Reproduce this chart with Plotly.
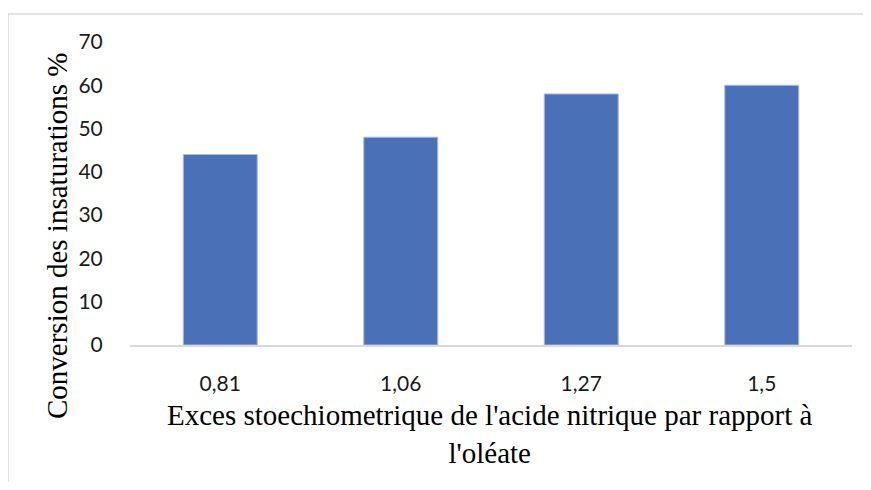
import plotly.graph_objects as go

categories = ["0,81", "1,06", "1,27", "1,5"]
conversion = [44, 48, 58, 60]
y_ticks = [0, 10, 20, 30, 40, 50, 60, 70]

# page has an 8px body margin; figure coords = page coords - 8
OFF = 8
W, H = 871 - 2 * OFF, 490 - 2 * OFF
plot_left, plot_right, plot_top, plot_bottom = 130 - OFF, 852 - OFF, 42 - OFF, 345 - OFF
L, R, T, B = plot_left, W - plot_right, plot_top, H - plot_bottom
pw, ph = W - L - R, H - T - B

def px_x(x):
    return (x - OFF - L) / pw

def px_y(y):
    return (H - B - (y - OFF)) / ph

fig = go.Figure(go.Bar(
    x=categories, y=conversion,
    marker=dict(color="#4A71B8", line=dict(color="#A9BCE0", width=1)),
    width=0.41,
))

fig.update_layout(
    width=W, height=H,
    margin=dict(l=L, r=R, t=T, b=B, pad=0),
    paper_bgcolor="white", plot_bgcolor="white",
    showlegend=False,
    xaxis=dict(
        type="category", showgrid=False, zeroline=False,
        showline=True, linecolor="#D9D9D9", linewidth=2,
        ticks="outside", ticklen=19, tickcolor="rgba(0,0,0,0)",
        tickfont=dict(family="Lato", size=21, color="#1a1a1a"),
    ),
    yaxis=dict(
        range=[0, 70], tickvals=y_ticks, showgrid=False, zeroline=False,
        showline=False,
        ticks="outside", ticklen=22, tickcolor="rgba(0,0,0,0)",
        tickfont=dict(family="Lato", size=21, color="#1a1a1a"),
    ),
    annotations=[
        dict(text="Conversion des insaturations %", xref="paper", yref="paper",
             x=px_x(57), y=px_y(236), textangle=-90, showarrow=False,
             xanchor="center", yanchor="middle",
             font=dict(family="Liberation Serif", size=29, color="black")),
        dict(text="Exces stoechiometrique de l'acide nitrique par rapport à<br>l'oléate",
             xref="paper", yref="paper", x=px_x(490), y=px_y(397),
             showarrow=False, xanchor="center", yanchor="top",
             font=dict(family="Liberation Serif", size=29, color="black")),
    ],
    shapes=[
        dict(type="rect", xref="paper", yref="paper",
             x0=px_x(8), x1=px_x(900), y0=px_y(520), y1=px_y(14),
             line=dict(color="#D9D9D9", width=1.5), fillcolor="rgba(0,0,0,0)",
             layer="below"),
    ],
)

fig.write_html("out.html")
